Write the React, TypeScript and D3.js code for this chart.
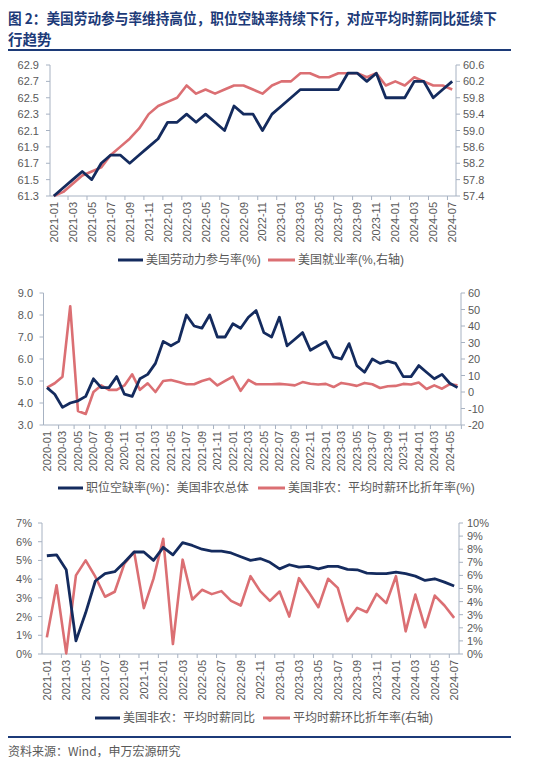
import React from "react";
import * as d3 from "d3";

// ---------- categories ----------
function monthRange(startY: number, startM: number, n: number): string[] {
  const out: string[] = [];
  for (let i = 0; i < n; i++) {
    const t = startM - 1 + i;
    const y = startY + Math.floor(t / 12);
    const m = (t % 12) + 1;
    out.push(`${y}-${m < 10 ? "0" + m : m}`);
  }
  return out;
}
const months1 = monthRange(2021, 1, 43); // 2021-01 .. 2024-07
const months2 = monthRange(2020, 1, 54); // 2020-01 .. 2024-06
const months3 = monthRange(2021, 1, 43); // 2021-01 .. 2024-07

// ---------- chart 1 ----------
const lfpr = [
  61.3, 61.4, 61.5, 61.6, 61.5, 61.7, 61.8, 61.8, 61.7, 61.8, 61.9, 62.0,
  62.2, 62.2, 62.3, 62.2, 62.3, 62.2, 62.1, 62.4, 62.3, 62.3, 62.1, 62.3,
  62.4, 62.5, 62.6, 62.6, 62.6, 62.6, 62.6, 62.8, 62.8, 62.7, 62.8, 62.5,
  62.5, 62.5, 62.7, 62.7, 62.5, 62.6, 62.7,
];
const epop = [
  57.4, 57.5, 57.7, 57.9, 58.0, 58.1, 58.4, 58.6, 58.8, 59.05, 59.4, 59.6,
  59.7, 59.8, 60.1, 59.9, 60.0, 59.9, 60.0, 60.1, 60.1, 60.0, 59.9, 60.1,
  60.2, 60.2, 60.4, 60.4, 60.3, 60.3, 60.4, 60.4, 60.4, 60.3, 60.4, 60.1,
  60.2, 60.1, 60.3, 60.2, 60.1, 60.1, 60.0,
];
const ticks1L = [61.3, 61.5, 61.7, 61.9, 62.1, 62.3, 62.5, 62.7, 62.9];
const ticks1R = [57.4, 57.8, 58.2, 58.6, 59.0, 59.4, 59.8, 60.2, 60.6];

// ---------- chart 2 ----------
const vacancy = [
  4.7, 4.4, 3.8, 4.0, 4.1, 4.3, 5.1, 4.7, 4.7, 5.2, 4.4, 4.3,
  5.1, 5.3, 5.8, 6.8, 6.6, 6.8, 8.0, 7.5, 7.4, 8.0, 7.0, 7.0,
  7.6, 7.4, 7.9, 8.2, 7.2, 7.0, 7.9, 6.6, 6.9, 7.2, 6.4, 6.6,
  6.8, 6.1, 6.0, 6.7, 5.7, 5.4, 6.0, 5.8, 5.9, 5.8, 5.2, 5.2,
  5.7, 5.4, 5.1, 5.3, 4.9, 4.7,
];
const wageAnn2 = [
  2.7, 5.3, 9.3, 52, -11.5, -13.3, 0, 4, 1.3, 1.3, 4, 10.7,
  1.3, 5.3, 0, 6.7, 7.3, 6, 4.7, 4.7, 6.7, 8, 4, 6.7,
  9.3, 0.7, 7.3, 4.7, 4.7, 4.7, 4.9, 4.5, 4, 6, 5, 4.5,
  4.9, 3, 5.5, 4.7, 3.7, 5.5, 4.7, 2.4, 3.5, 3.7, 4.9, 4.5,
  5.7, 1.8, 4, 2, 4.7, 4,
];
const ticks2L = [3, 4, 5, 6, 7, 8, 9];
const ticks2R = [-20, -10, 0, 10, 20, 30, 40, 50, 60];

// ---------- chart 3 ----------
const aheYoy = [
  5.25, 5.3, 4.5, 0.7, 2.2, 3.9, 4.3, 4.4, 4.9, 5.45, 5.45, 5.0,
  5.7, 5.3, 5.95, 5.8, 5.6, 5.5, 5.5, 5.4, 5.2, 5.0, 5.1, 4.9,
  4.55, 4.77, 4.64, 4.68, 4.55, 4.68, 4.68, 4.52, 4.5, 4.32, 4.29, 4.29,
  4.38, 4.29, 4.16, 3.93, 4.02, 3.84, 3.63,
];
const aheMomAnn = [
  1.27, 5.25, 0.05, 6.0, 7.15, 5.9, 4.37, 4.75, 6.9, 7.8, 3.5, 5.75,
  8.8, 0.76, 7.2, 4.16, 4.9, 4.57, 4.8, 4.06, 3.7, 5.94, 4.8, 4.06,
  4.77, 2.86, 5.79, 4.72, 3.57, 5.74, 5.05, 2.5, 3.52, 3.19, 4.59, 3.88,
  5.94, 1.73, 4.54, 2.04, 4.46, 3.7, 2.76,
];
const ticks3L = [0, 1, 2, 3, 4, 5, 6, 7];
const ticks3R = [0, 1, 2, 3, 4, 5, 6, 7, 8, 9, 10];

// ---------- texts ----------
const titleLine1 = "图 2：美国劳动参与率维持高位，职位空缺率持续下行，对应平均时薪同比延续下";
const titleLine2 = "行趋势";
const legend1 = ["美国劳动力参与率(%)", "美国就业率(%,右轴)"];
const legend2 = ["职位空缺率(%)：美国非农总体", "美国非农：平均时薪环比折年率(%)"];
const legend3 = ["美国非农：平均时薪同比", "平均时薪环比折年率(右轴)"];
const sourceText = "资料来源：Wind，申万宏源研究";

const BLUE = "#142b5e";
const RED = "#db6f73";
const AXIS = "#a7b2c2";
const TXT = "#595959";
const NAVY = "#1c3a78";
const FONT = "'Liberation Sans', Arial, 'Noto Sans CJK SC', sans-serif";

type ChartProps = {
  cats: string[];
  left: number[];
  right: number[];
  x0: number;
  x1: number;
  pad: number;
  top: number;
  bottom: number;
  lDom: [number, number];
  rDom: [number, number];
  lTicks: number[];
  rTicks: number[];
  lFmt: (v: number) => string;
  rFmt: (v: number) => string;
  lLabelEnd: number;
  rLabelStart: number;
  legend: string[];
  legendY: number;
  legendX: [number, number];
};

function DualChart(p: ChartProps) {
  const x = d3.scalePoint<string>().domain(p.cats).range([p.x0, p.x1]).padding(p.pad);
  const step = x.step();
  const yl = d3.scaleLinear().domain(p.lDom).range([p.bottom, p.top]);
  const yr = d3.scaleLinear().domain(p.rDom).range([p.bottom, p.top]);
  const lineL = d3
    .line<number>()
    .x((_, i) => x(p.cats[i]) as number)
    .y((d) => yl(d));
  const lineR = d3
    .line<number>()
    .x((_, i) => x(p.cats[i]) as number)
    .y((d) => yr(d));
  return (
    <g fontFamily={FONT}>
      {/* axes */}
      <line x1={p.x0} x2={p.x0} y1={p.top} y2={p.bottom} stroke={AXIS} strokeWidth={1} />
      <line x1={p.x1} x2={p.x1} y1={p.top} y2={p.bottom} stroke={AXIS} strokeWidth={1} />
      <line x1={p.x0} x2={p.x1} y1={p.bottom} y2={p.bottom} stroke={AXIS} strokeWidth={1} />
      {p.lTicks.map((t) => (
        <g key={"l" + t}>
          <line x1={p.x0 - 4} x2={p.x0} y1={yl(t)} y2={yl(t)} stroke={AXIS} />
          <text x={p.lLabelEnd} y={yl(t)} textAnchor="end" dominantBaseline="central" fontSize={11} fill={TXT}>
            {p.lFmt(t)}
          </text>
        </g>
      ))}
      {p.rTicks.map((t) => (
        <g key={"r" + t}>
          <line x1={p.x1} x2={p.x1 + 4} y1={yr(t)} y2={yr(t)} stroke={AXIS} />
          <text x={p.rLabelStart} y={yr(t)} textAnchor="start" dominantBaseline="central" fontSize={11} fill={TXT}>
            {p.rFmt(t)}
          </text>
        </g>
      ))}
      {p.cats.map((c, i) =>
        i % 2 === 0 ? (
          <g key={c}>
            <text
              transform={`translate(${x(c)},${p.bottom + 6}) rotate(-90)`}
              textAnchor="end"
              dominantBaseline="central"
              fontSize={11}
              fill={TXT}
            >
              {c}
            </text>
          </g>
        ) : (
          <line
            key={c}
            x1={(x(c) as number) + step / 2}
            x2={(x(c) as number) + step / 2}
            y1={p.bottom}
            y2={p.bottom + 4}
            stroke={AXIS}
          />
        )
      )}
      {/* series */}
      <path d={lineR(p.right) || ""} fill="none" stroke={RED} strokeWidth={2.6} strokeLinejoin="round" />
      <path d={lineL(p.left) || ""} fill="none" stroke={BLUE} strokeWidth={2.8} strokeLinejoin="round" />
      {/* legend */}
      <line x1={p.legendX[0]} x2={p.legendX[0] + 25} y1={p.legendY} y2={p.legendY} stroke={BLUE} strokeWidth={3} />
      <text x={p.legendX[0] + 28} y={p.legendY} dominantBaseline="central" fontSize={12} fill={TXT}>
        {p.legend[0]}
      </text>
      <line x1={p.legendX[1]} x2={p.legendX[1] + 27} y1={p.legendY} y2={p.legendY} stroke={RED} strokeWidth={3} />
      <text x={p.legendX[1] + 30} y={p.legendY} dominantBaseline="central" fontSize={12} fill={TXT}>
        {p.legend[1]}
      </text>
    </g>
  );
}

export default function App() {
  const pct = (v: number) => `${v}%`;
  return (
    <svg
      width={538}
      height={772}
      style={{ position: "absolute", left: 0, top: 0, background: "#fff" }}
    >
      <rect width={538} height={772} fill="#fff" />
      <text
        x={8}
        y={24}
        fontSize={14.5}
        fontWeight="bold"
        fill={NAVY}
        fontFamily="'Noto Sans CJK SC', sans-serif"
        textLength={489}
        lengthAdjust="spacingAndGlyphs"
      >
        {titleLine1}
      </text>
      <text x={8} y={45} fontSize={14.5} fontWeight="bold" fill={NAVY} fontFamily="'Noto Sans CJK SC', sans-serif">
        {titleLine2}
      </text>
      <line x1={8} x2={511} y1={50} y2={50} stroke={NAVY} strokeWidth={2} />

      <DualChart
        cats={months1}
        left={lfpr}
        right={epop}
        x0={50}
        x1={456}
        pad={0.4}
        top={65}
        bottom={196}
        lDom={[61.3, 62.9]}
        rDom={[57.4, 60.6]}
        lTicks={ticks1L}
        rTicks={ticks1R}
        lFmt={(v) => v.toFixed(1)}
        rFmt={(v) => v.toFixed(1)}
        lLabelEnd={39}
        rLabelStart={463}
        legend={legend1}
        legendY={260}
        legendX={[118, 268]}
      />
      <DualChart
        cats={months2}
        left={vacancy}
        right={wageAnn2}
        x0={43.5}
        x1={461}
        pad={0.45}
        top={293}
        bottom={425}
        lDom={[3, 9]}
        rDom={[-20, 60]}
        lTicks={ticks2L}
        rTicks={ticks2R}
        lFmt={(v) => v.toFixed(1)}
        rFmt={(v) => `${v}`}
        lLabelEnd={33}
        rLabelStart={468}
        legend={legend2}
        legendY={488}
        legendX={[58, 258]}
      />
      <DualChart
        cats={months3}
        left={aheYoy}
        right={aheMomAnn}
        x0={42}
        x1={459}
        pad={0.5}
        top={523}
        bottom={654}
        lDom={[0, 7]}
        rDom={[0, 10]}
        lTicks={ticks3L}
        rTicks={ticks3R}
        lFmt={pct}
        rFmt={pct}
        lLabelEnd={32}
        rLabelStart={467}
        legend={legend3}
        legendY={718}
        legendX={[95, 263]}
      />

      <line x1={8} x2={511} y1={737} y2={737} stroke={NAVY} strokeWidth={2} />
      <text
        x={8}
        y={750}
        dominantBaseline="central"
        fontSize={12}
        fill={TXT}
        fontFamily="'Noto Sans CJK SC', sans-serif"
      >
        {sourceText}
      </text>
    </svg>
  );
}
